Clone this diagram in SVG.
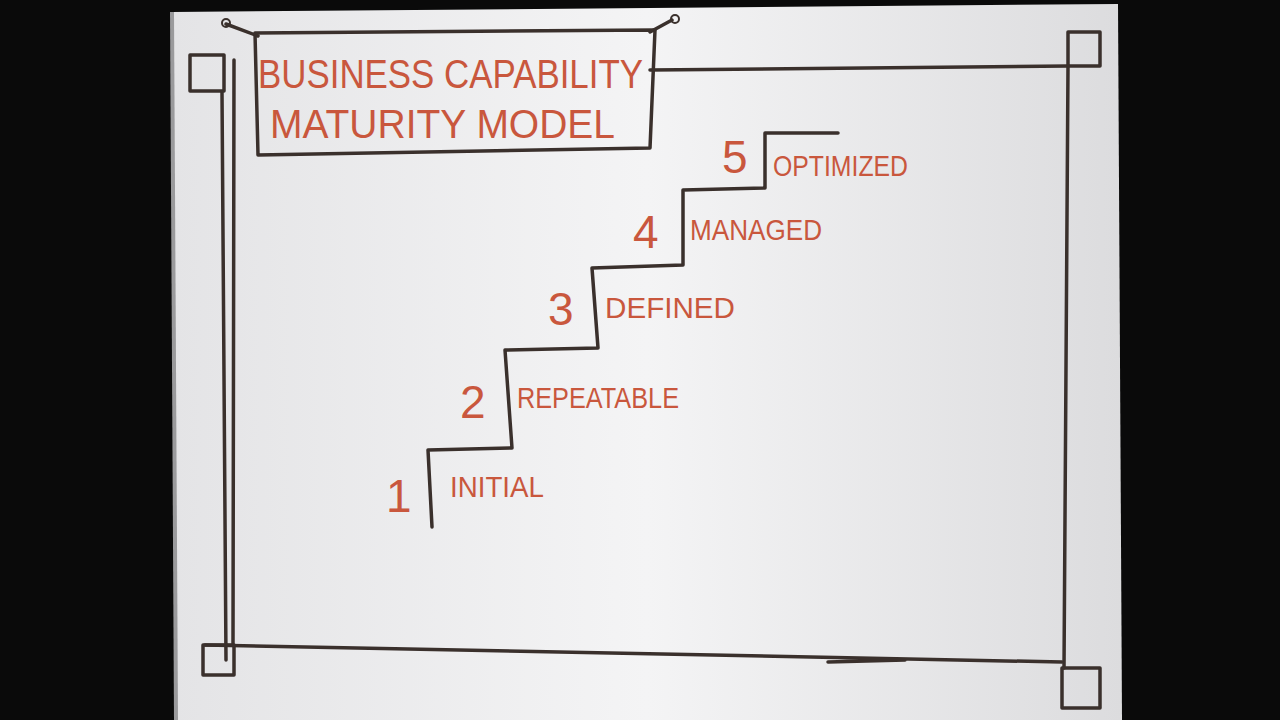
<svg xmlns="http://www.w3.org/2000/svg" width="1280" height="720" viewBox="0 0 1280 720">
<defs>
<linearGradient id="bd" x1="0" x2="1" y1="0" y2="0">
<stop offset="0" stop-color="#e4e4e6"/><stop offset="0.5" stop-color="#f4f4f5"/><stop offset="1" stop-color="#dcdcde"/>
</linearGradient>
<style>
.ink{fill:none;stroke:#3a302c;stroke-width:3.5;stroke-linecap:round;stroke-linejoin:round}
.red{fill:#c9573d;font-family:"Liberation Sans Narrow","Liberation Sans",sans-serif}
.lbl{font-size:30px}
.num{font-size:46px;font-family:"Liberation Sans",sans-serif;font-weight:normal}
.ttl{font-size:40px}
</style>
</defs>
<rect width="1280" height="720" fill="#0a0a0a"/>
<path d="M172 12 L1118 4 L1122 720 L176 720 Z" fill="url(#bd)"/>
<path d="M172 12 L176 720" stroke="#9a9a9c" stroke-width="4"/>
<g id="frame">
<path class="ink" d="M222 92 L226 660 M234 60 L233 645"/>
<path class="ink" d="M650 70 L1068 66"/>
<path class="ink" d="M1068 66 L1064 668"/>
<path class="ink" d="M205 645 L1062 662 M828 662 L905 660"/>
<rect class="ink" x="190" y="55" width="34" height="36"/>
<rect class="ink" x="1068" y="32" width="32" height="34"/>
<rect class="ink" x="203" y="645" width="31" height="30"/>
<rect class="ink" x="1062" y="668" width="38" height="40"/>
</g>
<g id="title">
<path class="ink" d="M255 33 L655 30 L650 148 L258 155 Z"/>
<path class="ink" d="M226 24 L258 36 M672 20 L650 32" stroke-width="2"/>
<circle cx="226" cy="23" r="4" fill="none" stroke="#3a302c" stroke-width="2"/>
<circle cx="675" cy="19" r="4" fill="none" stroke="#3a302c" stroke-width="2"/>
<text class="red ttl" x="258" y="88" textLength="385" lengthAdjust="spacingAndGlyphs">BUSINESS CAPABILITY</text>
<text class="red ttl" x="270" y="138" textLength="345" lengthAdjust="spacingAndGlyphs">MATURITY MODEL</text>
</g>
<g id="connectors">
<path class="ink" d="M432 527 L428 450 L512 448 L505 350 L598 348 L592 268 L683 265 L683 190 L765 188 L765 133 L838 133"/>
</g>
<g id="step1"><text class="red num" x="386" y="512">1</text><text class="red lbl" x="450" y="497" textLength="94" lengthAdjust="spacingAndGlyphs">INITIAL</text></g>
<g id="step2"><text class="red num" x="460" y="418">2</text><text class="red lbl" x="517" y="408" textLength="162" lengthAdjust="spacingAndGlyphs">REPEATABLE</text></g>
<g id="step3"><text class="red num" x="548" y="325">3</text><text class="red lbl" x="605" y="318" textLength="130" lengthAdjust="spacingAndGlyphs">DEFINED</text></g>
<g id="step4"><text class="red num" x="633" y="248">4</text><text class="red lbl" x="690" y="240" textLength="132" lengthAdjust="spacingAndGlyphs">MANAGED</text></g>
<g id="step5"><text class="red num" x="722" y="173">5</text><text class="red lbl" x="773" y="176" textLength="135" lengthAdjust="spacingAndGlyphs">OPTIMIZED</text></g>
</svg>
